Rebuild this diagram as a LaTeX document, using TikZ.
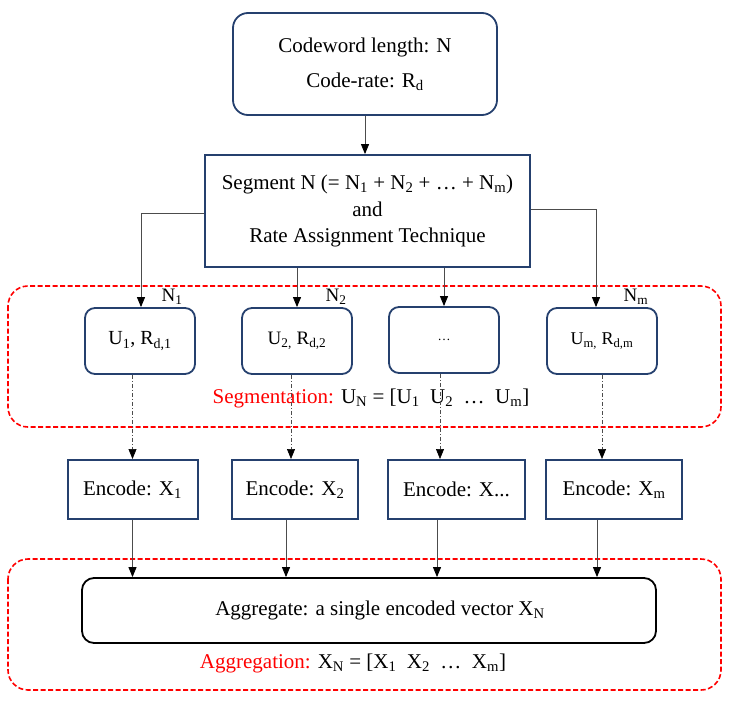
\documentclass[tikz,border=0pt]{standalone}
\usepackage{fontspec}
\setmainfont{Liberation Serif}
\definecolor{boxblue}{HTML}{25406E}
\definecolor{segred}{HTML}{FF0000}
\usetikzlibrary{arrows.meta,calc}

\begin{document}
\begin{tikzpicture}[x=1pt,y=-1pt,
  bluebox/.style={draw=boxblue,line width=1.8pt,align=center,inner sep=0pt},
  ubox/.style={bluebox,rounded corners=10pt,minimum width=110pt,minimum height=66pt},
  encbox/.style={bluebox,line width=2pt,minimum height=59pt},
  arr/.style={draw=black!70,line width=.9pt,-{Triangle[length=10pt,width=8pt,color=black]}},
  dd/.style={arr,line width=.7pt,dash pattern=on 4pt off 2pt on 1pt off 2pt},
  redbox/.style={draw=segred,line width=1.6pt,dash pattern=on 5pt off 2.5pt,rounded corners=20pt},
  font=\fontsize{21}{26}\selectfont]
\useasboundingbox (0,0) rectangle (731,704);
% input and segmentation
\node[bluebox,rounded corners=15pt,minimum width=264pt,minimum height=102pt,font=\fontsize{21}{35}\selectfont] (input) at (365,64) {Codeword length: N\\Code-rate: R\textsubscript{d}};
\node[bluebox,minimum width=325pt,minimum height=112pt,font=\fontsize{21}{26.5}\selectfont] (seg) at (367.5,211) {Segment N (= N\textsubscript{1} + N\textsubscript{2} + … + N\textsubscript{m})\\and\\Rate Assignment Technique};
\draw[arr] (input.south) -- (input.south |- seg.north);
\draw[redbox] (8,286) rectangle (721,427);
\node[ubox,font=\fontsize{20}{24}\selectfont] (u1) at (140,341) {U\textsubscript{1}, R\textsubscript{d,1}};
\node[ubox,font=\fontsize{19}{24}\selectfont] (u2) at (297,341) {U\textsubscript{2,} R\textsubscript{d,2}};
\node[ubox,font=\fontsize{13}{16}\selectfont] (udots) at (444,340) {…};
\node[ubox,font=\fontsize{18}{24}\selectfont] (um) at (602,341) {U\textsubscript{m,} R\textsubscript{d,m}};
\node[font=\fontsize{19}{22}\selectfont] (n1) at (172,297) {N\textsubscript{1}};
\node[font=\fontsize{19}{22}\selectfont] (n2) at (336,297) {N\textsubscript{2}};
\node[font=\fontsize{19}{22}\selectfont] (nm) at (636,297) {N\textsubscript{m}};
\draw[arr] ([yshift=-2pt]seg.west) -| ([xshift=1pt]u1.north);
\draw[arr] (seg.south -| u2.north) -- (u2.north);
\draw[arr] (seg.south -| udots.north) -- (udots.north);
\draw[arr] ([yshift=2pt]seg.east) -| ([xshift=-6pt]um.north);
\node (seglabel) at (371,398) {\textcolor{segred}{Segmentation:} U\textsubscript{N} = [U\textsubscript{1}\ \ U\textsubscript{2}\ \ …\ \ U\textsubscript{m}]};
% encoding
\node[encbox,minimum width=130pt] (e1) at (132.5,489.5) {Encode: X\textsubscript{1}};
\node[encbox,minimum width=126pt] (e2) at (295,489.5) {Encode: X\textsubscript{2}};
\node[encbox,minimum width=137pt] (e3) at (456.5,489.5) {Encode: X...};
\node[encbox,minimum width=136pt] (em) at (614,489.5) {Encode: X\textsubscript{m}};
\draw[dd] (u1.south -| e1.north) -- (e1.north);
\draw[dd] ($(u2.south)+(-6,0)$) -- ($(u2.south |- e2.north)+(-6,0)$);
\draw[dd] ($(udots.south)+(-4,0)$) -- ($(udots.south |- e3.north)+(-4,0)$);
\draw[dd] (um.south) -- (um.south |- em.north);
% aggregation
\draw[redbox] (8,559) rectangle (721,690);
\node[draw,line width=1.8pt,rounded corners=12pt,minimum width=574pt,minimum height=65pt,inner sep=0pt] (agg) at (369,610.5) {\hspace*{22pt}Aggregate: a single encoded vector X\textsubscript{N}};
\draw[arr] (e1.south) -- (e1.south |- agg.north);
\draw[arr] ($(e2.south)+(-9,0)$) -- ($(e2.south |- agg.north)+(-9,0)$);
\draw[arr] ($(e3.south)+(-19.5,0)$) -- ($(e3.south |- agg.north)+(-19.5,0)$);
\draw[arr] ($(em.south)+(-17,0)$) -- ($(em.south |- agg.north)+(-17,0)$);
\node (agglabel) at (353,663) {\textcolor{segred}{Aggregation:} X\textsubscript{N} = [X\textsubscript{1}\ \ X\textsubscript{2}\ \ …\ \ X\textsubscript{m}]};
\end{tikzpicture}
\end{document}
